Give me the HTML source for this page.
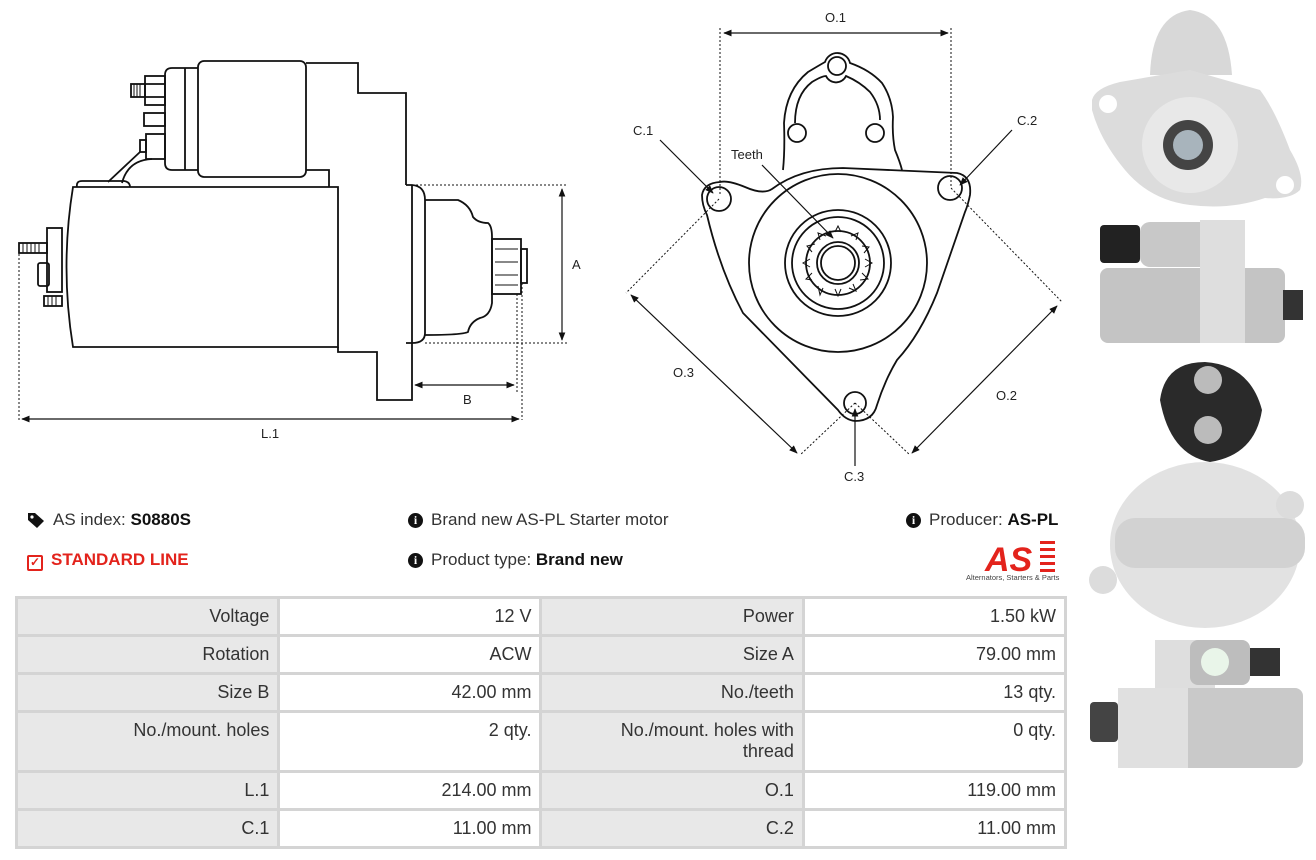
<!DOCTYPE html>
<html><head><meta charset="utf-8"><style>
body{margin:0;width:1316px;height:860px;background:#fff;overflow:hidden;position:relative;font-family:"Liberation Sans",sans-serif;color:#333}
.t{position:absolute;font-size:17px;white-space:nowrap}
b{color:#111}
table{position:absolute;left:15px;top:596px;border-collapse:collapse;width:1052px;font-size:18px}
td{border:3px solid #d4d4d4;text-align:right;padding:7px 8px 0 8px;vertical-align:top;height:28px;width:245px}
td.l{background:#e8e8e8}
.ic{display:inline-block;width:15px;height:15px;border-radius:50%;background:#111;color:#fff;font-size:12px;font-weight:bold;text-align:center;line-height:15px;vertical-align:1px;margin-right:8px;font-family:"Liberation Serif",serif}
</style></head><body>
<svg width="1316" height="860" style="position:absolute;left:0;top:0" fill="none" stroke="#111" stroke-width="1.8" font-family="Liberation Sans,sans-serif" font-size="13">
<defs>
<marker id="a" viewBox="0 0 10 10" refX="9" refY="5" markerWidth="7" markerHeight="7" orient="auto"><path d="M0,1L10,5L0,9z" fill="#111" stroke="none"/></marker>
<marker id="s" viewBox="0 0 10 10" refX="1" refY="5" markerWidth="7" markerHeight="7" orient="auto"><path d="M10,1L0,5L10,9z" fill="#111" stroke="none"/></marker>
</defs>
<!-- side view -->
<path d="M73,187H338V347H73Q60,267 73,187Z"/>
<path d="M306,63H358V93H406V185"/>
<path d="M338,347V352H377V400H412V185"/>
<path d="M406,185H412Q425,186 425,200V333Q425,343 412,343H406"/>
<path d="M425,200H458Q470,205 473,217Q478,223 488,223Q492,226 492,237V303Q490,316 480,318Q470,322 468,332Q462,335 425,335"/>
<rect x="492" y="239" width="29" height="55"/><path d="M495,249H518M495,262H518M495,275H518M495,285H518" stroke-width="1"/>
<rect x="521" y="249" width="6" height="34"/>
<path d="M306,170H329V187"/>
<rect x="198" y="61" width="108" height="116" rx="6"/>
<path d="M198,68H172Q165,68 165,75V163Q165,170 172,170H198M185,68V170"/>
<rect x="131" y="84" width="14" height="13"/><path d="M134,84V97M137,84V97M140,84V97" stroke-width="1"/>
<rect x="145" y="76" width="20" height="29"/><path d="M145,84H165M145,97H165"/>
<rect x="144" y="113" width="21" height="13"/>
<rect x="146" y="134" width="19" height="25"/><rect x="140" y="140" width="6" height="12"/>
<path d="M140,152L108,182M152,159Q128,160 122,183"/>
<path d="M77,187Q76,181 82,181H124Q130,182 130,187"/>
<rect x="47" y="228" width="15" height="64"/>
<rect x="19" y="243" width="28" height="10"/><path d="M23,243V253M27,243V253M31,243V253M35,243V253M39,243V253" stroke-width="1"/>
<rect x="38" y="263" width="11" height="23" rx="2"/>
<rect x="44" y="296" width="18" height="10"/><path d="M48,296V306M52,296V306M56,296V306" stroke-width="1"/>
<g stroke-dasharray="2,2" stroke-width="1"><path d="M412,185H568M425,343H568M19,250V420M522,283V420M517,294V392"/></g>
<g stroke-width="1.2" marker-start="url(#s)" marker-end="url(#a)"><path d="M562,189V340"/><path d="M22,419H519"/><path d="M415,385H514"/></g>
<g fill="#222" stroke="none"><text x="572" y="269">A</text><text x="261" y="438">L.1</text><text x="463" y="404">B</text></g>
<!-- front view -->
<path d="M783,170Q785,150 784,123Q786,90 808,72Q818,66 825,62A13,13 0 0 1 850,63Q870,70 882,83Q892,98 893,117Q892,135 895,150Q900,162 902,170"/>
<path d="M795,123Q795,95 812,82Q822,76 826,76A11,11 0 0 0 846,76Q860,82 870,92Q880,105 880,120"/>
<circle cx="837" cy="66" r="9"/><circle cx="797" cy="133" r="9"/><circle cx="875" cy="133" r="9"/>
<path d="M720,182Q728,180 745,187Q763,195 772,189Q800,168 843,168L957,173Q972,176 970,195Q968,205 965,212L937,293Q920,335 897,360Q885,380 877,405Q873,421 855,421Q845,420 838,410L743,313Q720,270 707,215Q702,205 702,195Q704,183 720,182Z"/>
<circle cx="719" cy="199" r="12"/><circle cx="950" cy="188" r="12"/><circle cx="855" cy="403" r="11"/>
<circle cx="838" cy="263" r="89"/><circle cx="838" cy="263" r="53"/><circle cx="838" cy="263" r="46"/>
<circle cx="838" cy="263" r="32"/><circle cx="838" cy="263" r="21"/><circle cx="838" cy="263" r="17"/>
<g stroke-width="1">
<path d="M835,232L838,226L841,232M851,236L858,233L856,240M862,246L869,247L864,253M865,259L872,263L865,267M862,273L868,279L860,280M853,284L856,291L849,288M841,289L838,296L835,289M823,288L820,295L818,286M812,280L806,279L812,273M810,267L803,263L810,259M812,252L807,246L815,244M820,240L818,233L826,236"/>
</g>
<g stroke-dasharray="2,2" stroke-width="1"><path d="M720,28V195M951,28V188M719,199L626,293M855,403L800,455M951,188L1062,302M855,403L910,455"/></g>
<g stroke-width="1.2" marker-start="url(#s)" marker-end="url(#a)">
<path d="M724,33H948"/><path d="M631,295L797,453"/><path d="M1057,306L912,453"/>
</g>
<g stroke-width="1.2" marker-end="url(#a)">
<path d="M660,140L713,193"/><path d="M1012,130L960,185"/><path d="M855,466V409"/><path d="M762,165L833,238"/>
</g>
<g fill="#222" stroke="none"><text x="825" y="22">O.1</text><text x="633" y="135">C.1</text><text x="1017" y="125">C.2</text><text x="731" y="159">Teeth</text><text x="673" y="377">O.3</text><text x="996" y="400">O.2</text><text x="844" y="481">C.3</text></g>
<!-- photos -->
<g stroke="none">
<path d="M1150,75Q1152,15 1190,10Q1228,15 1232,75Z" fill="#d8d8d8"/>
<path d="M1092,100Q1095,88 1120,82L1190,70L1260,90Q1275,110 1290,150Q1305,175 1300,190Q1290,200 1265,198Q1230,210 1190,205Q1150,200 1125,170Q1100,140 1092,110Z" fill="#dcdcdc"/>
<circle cx="1190" cy="145" r="48" fill="#e8e8e8"/><circle cx="1188" cy="145" r="25" fill="#444"/><circle cx="1188" cy="145" r="15" fill="#a8b4bc"/>
<circle cx="1108" cy="104" r="9" fill="#fff"/><circle cx="1285" cy="185" r="9" fill="#fff"/>
<rect x="1100" y="225" width="40" height="38" rx="4" fill="#222"/>
<rect x="1140" y="222" width="70" height="45" rx="10" fill="#c8c8c8"/>
<rect x="1100" y="268" width="185" height="75" rx="8" fill="#c4c4c4"/>
<rect x="1200" y="220" width="45" height="123" fill="#dedede"/>
<rect x="1283" y="290" width="20" height="30" fill="#333"/>
<path d="M1160,400Q1165,362 1205,362Q1250,365 1262,410Q1255,455 1210,462Q1170,455 1160,400Z" fill="#2a2a2a"/>
<circle cx="1208" cy="380" r="14" fill="#bbb"/><circle cx="1208" cy="430" r="14" fill="#bbb"/>
<ellipse cx="1205" cy="545" rx="95" ry="83" fill="#e2e2e2"/>
<rect x="1115" y="518" width="190" height="50" rx="20" fill="#d2d2d2"/>
<circle cx="1103" cy="580" r="14" fill="#dcdcdc"/><circle cx="1290" cy="505" r="14" fill="#dcdcdc"/>
<rect x="1155" y="640" width="60" height="50" fill="#dedede"/>
<rect x="1190" y="640" width="60" height="45" rx="8" fill="#bdbdbd"/>
<circle cx="1215" cy="662" r="14" fill="#e9f5e9"/>
<rect x="1250" y="648" width="30" height="28" fill="#333"/>
<rect x="1118" y="688" width="185" height="80" rx="8" fill="#c9c9c9"/>
<rect x="1118" y="688" width="70" height="80" fill="#e0e0e0"/>
<rect x="1090" y="702" width="28" height="40" rx="4" fill="#444"/>
</g>
<!-- logo -->
<g stroke="none">
<text x="985" y="571" font-size="34" font-weight="bold" font-style="italic" fill="#e3231c" font-family="Liberation Sans,sans-serif">AS</text>
<rect x="1040" y="541" width="15" height="3" fill="#e3231c"/><rect x="1040" y="548" width="15" height="3" fill="#e3231c"/><rect x="1040" y="555" width="15" height="3" fill="#e3231c"/><rect x="1040" y="562" width="15" height="3" fill="#e3231c"/><rect x="1040" y="569" width="15" height="3" fill="#e3231c"/>
<text x="966" y="580" font-size="7.5" fill="#444">Alternators, Starters &amp; Parts</text>
</g>
</svg>
<div class="t" style="left:27px;top:510px;width:20px;height:20px"><svg width="20" height="20"><path d="M1,3L8,3L17,11L10,18L1,10Z" fill="#111"/><circle cx="5" cy="7" r="1.6" fill="#fff"/></svg></div>
<div class="t" style="left:53px;top:510px">AS index: <b>S0880S</b></div>
<div class="t" style="left:27px;top:550px;color:#e3231c;font-weight:bold"><span style="display:inline-block;width:12px;height:12px;border:2px solid #e3231c;border-radius:2px;margin-right:8px;vertical-align:-1px;font-size:12px;line-height:11px;text-align:center">✓</span>STANDARD LINE</div>
<div class="t" style="left:408px;top:510px"><span class="ic">i</span>Brand new AS-PL Starter motor</div>
<div class="t" style="left:408px;top:550px"><span class="ic">i</span>Product type: <b>Brand new</b></div>
<div class="t" style="left:906px;top:510px"><span class="ic">i</span>Producer: <b>AS-PL</b></div>
<table>
<tr><td class="l">Voltage</td><td>12 V</td><td class="l">Power</td><td>1.50 kW</td></tr>
<tr><td class="l">Rotation</td><td>ACW</td><td class="l">Size A</td><td>79.00 mm</td></tr>
<tr><td class="l">Size B</td><td>42.00 mm</td><td class="l">No./teeth</td><td>13 qty.</td></tr>
<tr><td class="l" style="height:50px">No./mount. holes</td><td>2 qty.</td><td class="l">No./mount. holes with<br>thread</td><td>0 qty.</td></tr>
<tr><td class="l">L.1</td><td>214.00 mm</td><td class="l">O.1</td><td>119.00 mm</td></tr>
<tr><td class="l">C.1</td><td>11.00 mm</td><td class="l">C.2</td><td>11.00 mm</td></tr>
</table>
</body></html>
